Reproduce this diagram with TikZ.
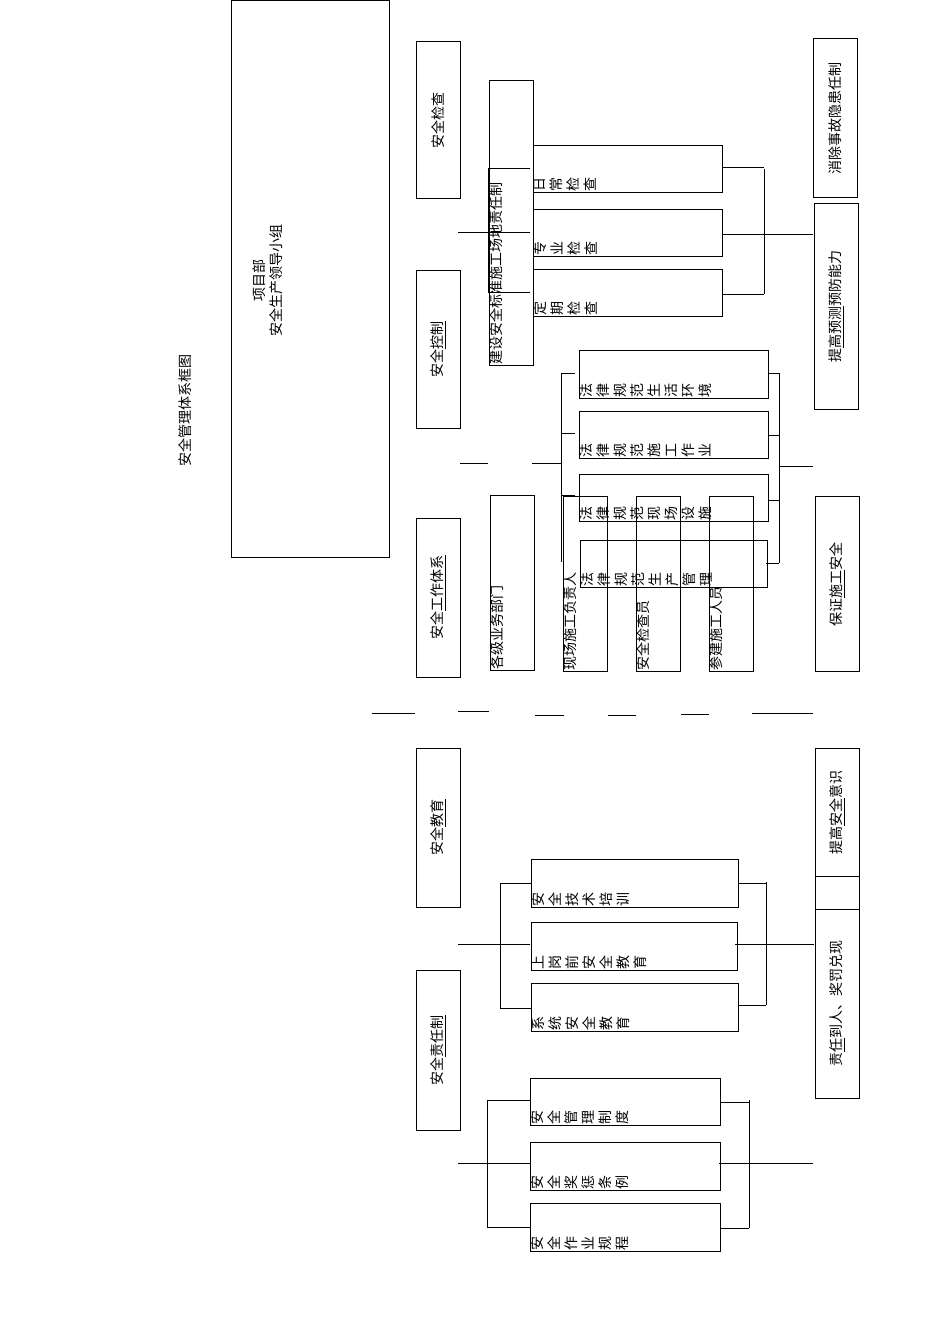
\documentclass[tikz,border=0pt]{standalone}
\usepackage{fontspec}
\newfontfamily\cjk{Noto Sans CJK SC}
\begin{document}
\begin{tikzpicture}[x=1pt,y=-1pt,line width=0.8pt,
  every node/.style={font=\cjk\fontsize{14}{17}\selectfont,inner sep=1pt},
  rt/.style={rotate=90},
  stk/.style={rotate=90,anchor=north west,align=left,inner sep=0.5pt}]
\useasboundingbox (0,0) rectangle (950,1344);
% title and big box
\node[rt] (title) at (185,410) {安全管理体系框图};
\draw (231,0) rectangle (389,557);
\node[rt,align=center] (lead) at (268,280) {项目部\\安全生产领导小组};
% left column
\draw (416,41) rectangle (460,198);  \node[rt] (c1) at (438,120) {安全检查};
\draw (416,270) rectangle (460,428); \node[rt] (c2) at (438,349) {安全\underline{控制}};
\draw (416,518) rectangle (460,677); \node[rt] (c3) at (438,597) {安全\underline{工作体系}};
\draw (416,748) rectangle (460,907); \node[rt] (c4) at (438,827) {安全\underline{教育}};
\draw (416,970) rectangle (460,1130);\node[rt] (c5) at (438,1050) {安全\underline{责任制}};
% right column
\draw (813,38) rectangle (857,197);  \node[rt] (r1) at (835,118) {消除事故隐患任制};
\draw (814,203) rectangle (858,409); \node[rt] (r2) at (836,306) {提\underline{高预测}预防能力};
\draw (815,496) rectangle (859,671); \node[rt] (r3) at (837,584) {保证\underline{施工}安全};
\draw (815,748) rectangle (859,876); \node[rt] (r4) at (837,812) {提高\underline{安全}意识};
\draw (815,876) rectangle (859,909);
\draw (815,909) rectangle (859,1098);\node[rt] (r5) at (837,1003) {责\underline{任}到人、奖罚兑现};
% inspection group
\draw (489,80) rectangle (533,365); \node[stk] (b0) at (489,365) {建设安全标准施工场地责任制};
\draw (533,145) rectangle (722,192); \node[stk] (i1) at (533,192) {日\\常\\检\\查};
\draw (533,209) rectangle (722,256); \node[stk] (i2) at (533,256) {专\\业\\检\\查};
\draw (533,269) rectangle (722,316); \node[stk] (i3) at (533,316) {定\\期\\检\\查};
\draw (458,232)--(530,232);
\draw (488,168)--(488,292) (488,168)--(530,168) (488,292)--(530,292);
\draw (722,167)--(764,167) (764,169)--(764,294) (722,294)--(764,294) (722,234)--(813,234);
% law group
\draw (579,350) rectangle (768,398); \node[stk] (l1) at (579,398) {法\\律\\规\\范\\生\\活\\环\\境};
\draw (579,411) rectangle (768,458); \node[stk] (l2) at (579,458) {法\\律\\规\\范\\施\\工\\作\\业};
\draw (579,474) rectangle (768,521); \node[stk] (l3) at (579,521) {法\\律\\规\\范\\现\\场\\设\\施};
\draw (580,540) rectangle (767,587); \node[stk] (l4) at (580,587) {法\\律\\规\\范\\生\\产\\管\\理};
\draw (532,463)--(561,463) (561,373)--(561,562);
\draw (561,373)--(575,373) (561,433)--(575,433) (561,495)--(575,495);
\draw (779,373)--(779,563) (768,373)--(779,373) (768,435)--(779,435) (768,500)--(779,500) (766,563)--(779,563);
\draw (779,466)--(813,466);
\draw (460,463)--(488,463);
% work system row
\draw (490,495) rectangle (534,670); \node[stk] (w1) at (490,670) {各级业务部门};
\draw (563,496) rectangle (607,671); \node[stk] (w2) at (563,671) {现场施工负责人};
\draw (636,496) rectangle (680,671); \node[stk] (w3) at (636,671) {安全检查员};
\draw (709,496) rectangle (753,671); \node[stk] (w4) at (709,671) {参建施工人员};
\draw (372,713)--(415,713) (458,711)--(489,711) (535,715)--(564,715)
      (608,715)--(636,715) (681,714)--(709,714) (752,713)--(813,713);
% education group
\draw (531,859) rectangle (738,907); \node[stk] (e1) at (531,907) {安\\全\\技\\术\\培\\训};
\draw (531,922) rectangle (737,970); \node[stk] (e2) at (531,970) {上\\岗\\前\\安\\全\\教\\育};
\draw (531,983) rectangle (738,1031);\node[stk] (e3) at (531,1031) {系\\统\\安\\全\\教\\育};
\draw (458,944)--(530,944) (500,883)--(500,1008) (500,883)--(531,883) (500,1008)--(531,1008);
\draw (766,882)--(766,1005) (738,883)--(766,883) (738,1005)--(766,1005) (735,944)--(814,944);
% responsibility group
\draw (530,1078) rectangle (720,1125); \node[stk] (s1) at (530,1125) {安\\全\\管\\理\\制\\度};
\draw (530,1142) rectangle (720,1190); \node[stk] (s2) at (530,1190) {安\\全\\奖\\惩\\条\\例};
\draw (530,1203) rectangle (720,1251); \node[stk] (s3) at (530,1251) {安\\全\\作\\业\\规\\程};
\draw (458,1163)--(530,1163) (487,1100)--(487,1227) (487,1100)--(530,1100) (487,1227)--(530,1227);
\draw (749,1100)--(749,1228) (720,1102)--(749,1102) (720,1228)--(749,1228) (719,1163)--(813,1163);
\end{tikzpicture}
\end{document}
